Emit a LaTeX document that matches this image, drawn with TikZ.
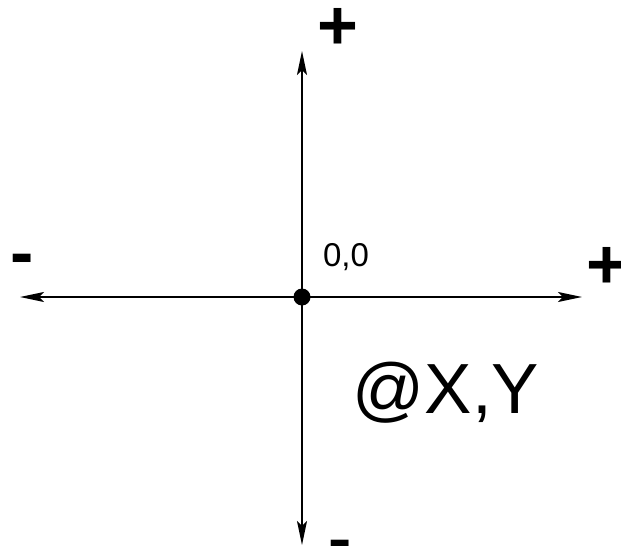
\documentclass[tikz,border=0pt]{standalone}
\usepackage{fontspec}
\setmainfont{Liberation Sans}
\usetikzlibrary{arrows.meta}
\begin{document}
\begin{tikzpicture}[x=1pt,y=-1pt,
  axis/.style={line width=1.8pt,-{Stealth[length=24pt,width=10pt,inset=5pt]}},
  sign/.style={font=\bfseries\fontsize{70}{70}\selectfont,inner sep=0pt},
  lbl/.style={inner sep=0pt}]
\useasboundingbox (0,0) rectangle (621,546);
\coordinate (O) at (302,297);
\coordinate (T) at (302,51);
\coordinate (B) at (302,545);
\coordinate (L) at (20,297);
\coordinate (R) at (582,297);
\draw[axis] (O) -- (T);
\draw[axis] (O) -- (B);
\draw[axis] (O) -- (L);
\draw[axis] (O) -- (R);
\fill (O) circle (8.5pt);
\node[sign] (pt) at (338,29) {+};
\node[sign] (pr) at (607,268) {+};
\node[sign] (ml) at (22,265) {-};
\node[sign] (mb) at (340,551) {-};
\node[lbl,font=\fontsize{33}{33}\selectfont] (zero) at (346,257) {0,0};
\node[lbl,font=\fontsize{71}{71}\selectfont] (xy) at (446,393) {@X,Y};
\end{tikzpicture}
\end{document}
